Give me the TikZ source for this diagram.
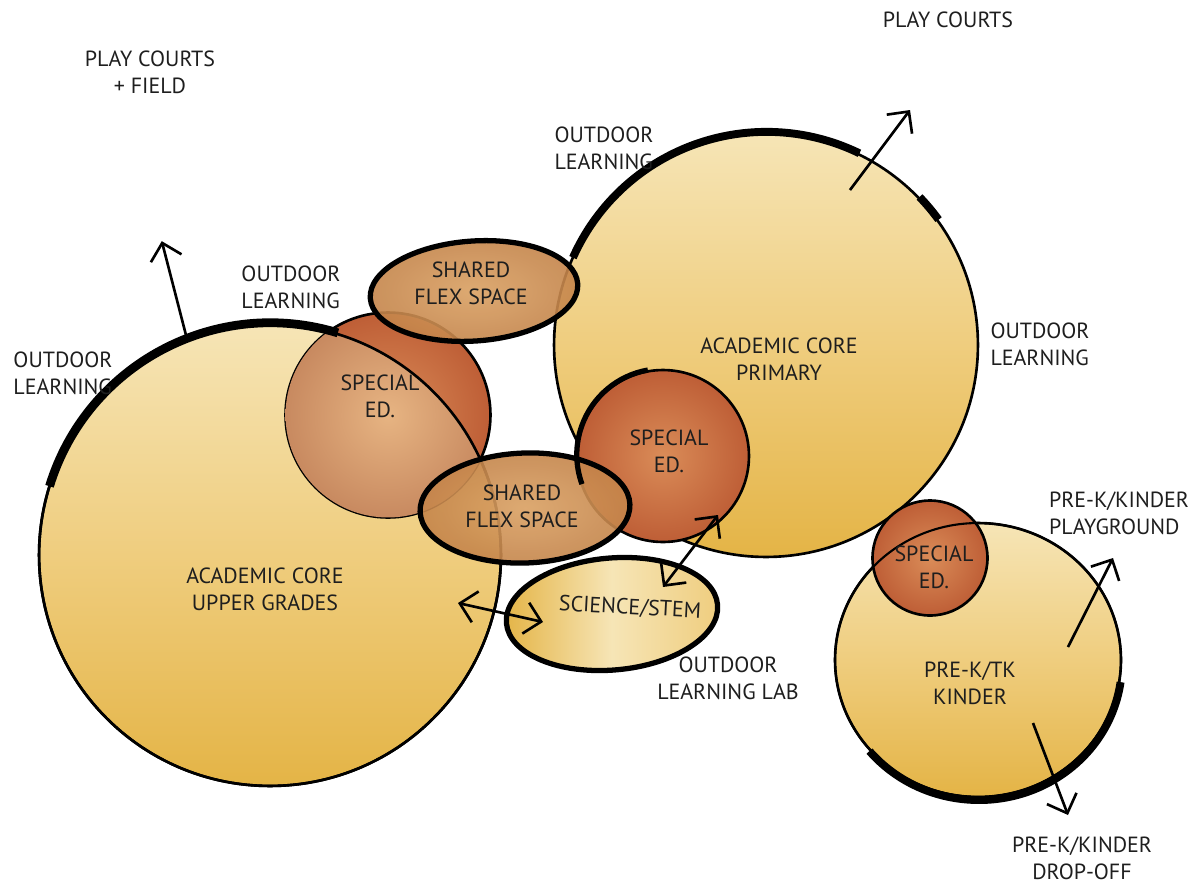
\documentclass[tikz,border=0pt]{standalone}
\usepackage{fontspec}
\setmainfont{PT Sans}
\usetikzlibrary{shapes.geometric,arrows.meta}
\definecolor{cream}{HTML}{F6E5B6}
\definecolor{goldmid}{HTML}{EFCD7E}
\definecolor{gold}{HTML}{E4B446}
\definecolor{rust}{HTML}{BE5E36}
\definecolor{peach}{HTML}{DA8C58}
\definecolor{tan}{HTML}{D9A062}
\definecolor{tandark}{HTML}{C4844A}
\definecolor{ink}{HTML}{1E1E1E}
\begin{document}
\begin{tikzpicture}[x=0.02cm,y=-0.02cm,
	room/.style={ellipse,inner sep=0pt,draw=black,line width=1.5pt,top color=cream,bottom color=gold,middle color=goldmid},
	sped/.style={circle,inner sep=0pt,draw=black,line width=1.5pt,inner color=peach,outer color=rust},
	flex/.style={ellipse,inner sep=0pt,draw=black,line width=3pt,inner color=tan,outer color=tandark,fill opacity=0.9},
	lbl/.style={align=center,text=ink,inner sep=1pt,font=\fontsize{12.5}{15.3}\selectfont},
	way/.style={line width=1.5pt,-{Straight Barb[length=9pt,width=18pt]}},
	both/.style={line width=1.5pt,{Straight Barb[length=9pt,width=18pt]}-{Straight Barb[length=9pt,width=18pt]}}]
		\useasboundingbox (0,0) rectangle (1198,887);
		%academic cores
		\node[room,minimum width=9.24cm,minimum height=9.24cm] (ug) at (270,555) {};
		\node[room,minimum width=8.48cm,minimum height=8.48cm] (prim) at (766,345) {};
		\node[room,minimum width=5.72cm,minimum height=5.48cm] (prek) at (978,660) {};
		%special ed
		\node[sped,minimum size=4.1cm] (sped1) at (388,415) {};
		\begin{scope}
		\clip (ug.center) circle[radius=4.62cm];
		\shade[inner color=cream!45!peach,outer color=peach!80!gray] (sped1.center) circle[radius=2.05cm];
		\end{scope}
		\draw[line width=1.5pt] (ug.center) circle[radius=4.62cm];
		\node[sped,minimum size=3.44cm] (sped2) at (663,456) {};
		\node[sped,minimum size=2.3cm] (sped3) at (930,558) {};
		\draw[line width=1.2pt] (prek.center) ellipse[x radius=2.86cm,y radius=2.74cm];
		%shared spaces
		\node[flex,minimum width=4.16cm,minimum height=2cm,rotate=4] (flex1) at (474,291) {};
		\node[flex,minimum width=4.2cm,minimum height=2.2cm,rotate=2] (flex2) at (525,508) {};
		\node[ellipse,inner sep=0pt,draw,line width=3pt,left color=gold,right color=goldmid,middle color=cream,minimum width=4.24cm,minimum height=2.24cm,rotate=5] (sci) at (612,614) {};
		%outdoor edges
		\draw[line width=5pt] (ug.73) arc[start angle=73,end angle=163,radius=4.62cm];
		\draw[line width=4.5pt] (prim.64) arc[start angle=64,end angle=156,radius=4.24cm];
		\draw[line width=4.5pt] (prim.36) arc[start angle=36,end angle=44,radius=4.24cm];
		\draw[line width=4.5pt] (prek.220) arc[start angle=220,end angle=352,x radius=2.86cm,y radius=2.74cm];
		\draw[line width=3pt] (sped2.100) arc[start angle=100,end angle=200,radius=1.72cm];
		%room names
		\node[lbl] (ugtxt) at (265,589) {ACADEMIC CORE\\UPPER GRADES};
		\node[lbl] (primtxt) at (779,359) {ACADEMIC CORE\\PRIMARY};
		\node[lbl] (prektxt) at (970,683) {PRE-K/TK\\KINDER};
		\node[lbl] (sp1txt) at (380,396) {SPECIAL\\ED.};
		\node[lbl] (sp2txt) at (669,451) {SPECIAL\\ED.};
		\node[lbl] (sp3txt) at (934,567) {SPECIAL\\ED.};
		\node[lbl] (fx1txt) at (471,283) {SHARED\\FLEX SPACE};
		\node[lbl] (fx2txt) at (522,506) {SHARED\\FLEX SPACE};
		\node[lbl,rotate=-3] (scitxt) at (630,608) {SCIENCE/STEM};
		%outside
		\node[lbl] (pcf) at (150,72) {PLAY COURTS\\+ FIELD};
		\node[lbl] (pc) at (948,20) {PLAY COURTS};
		\node[lbl,align=left] (ol1) at (604,148) {OUTDOOR\\LEARNING};
		\node[lbl,align=left] (ol2) at (291,287) {OUTDOOR\\LEARNING};
		\node[lbl,align=left] (ol3) at (63,373) {OUTDOOR\\LEARNING};
		\node[lbl,align=left] (ol4) at (1040,344) {OUTDOOR\\LEARNING};
		\node[lbl] (olab) at (728,678) {OUTDOOR\\LEARNING LAB};
		\node[lbl,align=left] (play) at (1119,513) {PRE-K/KINDER\\PLAYGROUND};
		\node[lbl] (drop) at (1082,858) {PRE-K/KINDER\\DROP-OFF};
		%arrows
		\draw[way] (ug.111) -- ++(-25,-97);
		\draw[way] ([shift={(84,-155)}]prim.center) -- ++(60,-80);
		\draw[way] ([shift={(90,-13)}]prek.center) -- ++(45,-89);
		\draw[way] ([shift={(55,63)}]prek.center) -- ++(35,92);
		\draw[both] ([shift={(188,48)}]ug.center) -- ([shift={(-69,8)}]sci.center);
		\draw[both] ([shift={(55,59)}]sped2.center) -- ([shift={(51,-27)}]sci.center);
\end{tikzpicture}
\end{document}
